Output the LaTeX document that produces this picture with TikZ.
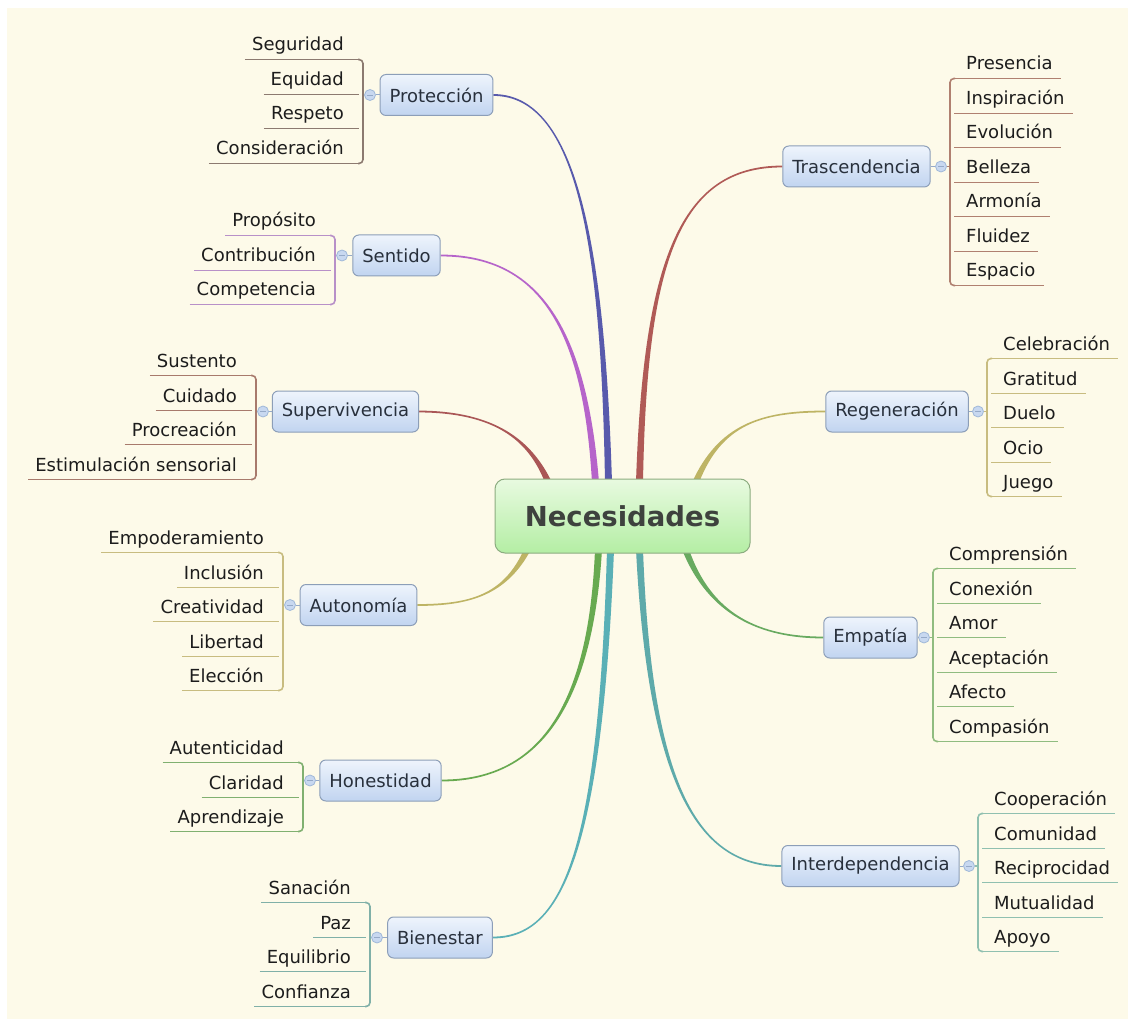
\documentclass[tikz,border=0pt]{standalone}
\usepackage{fontspec}
\setmainfont{DejaVu Sans}
\usetikzlibrary{calc}
\pgfdeclarelayer{bg}\pgfdeclarelayer{lines}\pgfsetlayers{bg,lines,main}
\definecolor{cream}{RGB}{253,250,233}
\definecolor{leaftext}{RGB}{28,28,28}
\definecolor{branchtext}{RGB}{40,48,60}
\definecolor{branchborder}{RGB}{140,158,184}
\definecolor{branchtop}{RGB}{238,244,252}
\definecolor{branchbot}{RGB}{193,212,240}
\definecolor{roottop}{RGB}{232,250,224}
\definecolor{rootbot}{RGB}{180,238,164}
\definecolor{rootborder}{RGB}{140,172,128}
\definecolor{roottext}{RGB}{62,66,62}
\definecolor{collfill}{RGB}{200,216,240}
\definecolor{collborder}{RGB}{160,184,216}
\definecolor{boxlinec}{RGB}{150,170,200}
% connector colours
\definecolor{cProt}{RGB}{88,90,172}
\definecolor{cSent}{RGB}{182,100,202}
\definecolor{cSup}{RGB}{170,86,86}
\definecolor{cTras}{RGB}{176,90,86}
\definecolor{cOlive}{RGB}{190,180,100}
\definecolor{cHon}{RGB}{104,170,80}
\definecolor{cEmp}{RGB}{104,170,96}
\definecolor{cBien}{RGB}{90,176,182}
\definecolor{cInt}{RGB}{94,170,170}
% underline colours
\definecolor{uProt}{RGB}{140,122,112}
\definecolor{uSent}{RGB}{184,144,200}
\definecolor{uSup}{RGB}{168,122,108}
\definecolor{uTras}{RGB}{176,128,112}
\definecolor{uOlive}{RGB}{200,188,128}
\definecolor{uHon}{RGB}{128,176,112}
\definecolor{uEmp}{RGB}{144,188,128}
\definecolor{uBien}{RGB}{128,176,168}
\definecolor{uInt}{RGB}{144,192,176}
\newcommand\leaffont{\fontsize{18}{22}\selectfont}
\tikzset{
  leaf/.style={font=\leaffont, text=leaftext, inner sep=0pt},
  branch/.style={draw=branchborder, line width=1pt, rounded corners=6pt,
    top color=branchtop, bottom color=branchbot, font=\leaffont, text=branchtext,
    inner xsep=9.5pt, inner ysep=0pt, minimum height=41pt},
  rootbox/.style={draw=rootborder, line width=1pt, rounded corners=10pt,
    top color=roottop, bottom color=rootbot, text=roottext,
    font=\fontsize{27.5}{32}\selectfont\bfseries, minimum width=255pt, minimum height=74pt},
  collapse/.style={circle, draw=collborder, fill=collfill, line width=0.8pt,
    minimum size=11pt, inner sep=0pt,
    path picture={\draw[boxlinec, line width=0.9pt] ([xshift=2.8pt]path picture bounding box.west) -- ([xshift=-2.8pt]path picture bounding box.east);}},
  uline/.style={draw=#1, line width=1.6pt},
  boxline/.style={draw=boxlinec, line width=1pt}
}
% left leaf group: #1 node, #2 bracket x, #3 first underline y, #4 count, #5 colour, #6 circle y, #7 list
\newcommand\grpL[7]{%
  \foreach \lbl [count=\i] in {#7} {
    \pgfmathsetmacro\yy{round(#3+(\i-1)*34.5)+0.5}
    \node[leaf, anchor=base east] (#1-\i) at (#2-19,\yy-8.5) {\lbl};
    \draw[uline=#5] ($(#1-\i.base west)+(-7,8.5)$) -- (#2-4,\yy);
  }
  \pgfmathsetmacro\yfirst{round(#3)+0.5}
  \pgfmathsetmacro\ylast{round(#3+(#4-1)*34.5)+0.5}
  \draw[uline=#5, rounded corners=4pt] (#2-5,\yfirst) -- (#2,\yfirst) -- (#2,\ylast) -- (#2-5,\ylast);
  \node[collapse] (#1-c) at (#2+7,#6) {};
  \draw[uline=#5] (#2,#6) -- (#1-c.west);
  \draw[boxline] (#1-c.east) -- (#1.west);
}
\newcommand\grpR[7]{%
  \foreach \lbl [count=\i] in {#7} {
    \pgfmathsetmacro\yy{round(#3+(\i-1)*34.5)+0.5}
    \node[leaf, anchor=base west] (#1-\i) at (#2+16,\yy-8.5) {\lbl};
    \draw[uline=#5] (#2+4,\yy) -- ($(#1-\i.base east)+(8,8.5)$);
  }
  \pgfmathsetmacro\yfirst{round(#3)+0.5}
  \pgfmathsetmacro\ylast{round(#3+(#4-1)*34.5)+0.5}
  \draw[uline=#5, rounded corners=4pt] (#2+5,\yfirst) -- (#2,\yfirst) -- (#2,\ylast) -- (#2+5,\ylast);
  \node[collapse] (#1-c) at (#2-9,#6) {};
  \draw[uline=#5] (#2,#6) -- (#1-c.east);
  \draw[boxline] (#1-c.west) -- (#1.east);
}
% tapered connector: #1 colour, #2 start coordinate, #3 c1, #4 c2, #5 end anchor, #6 half width, #7 sign
\newcommand\conn[7]{%
  \pgfmathsetmacro\ea{(#7)*0.9}\pgfmathsetmacro\eb{0-(#7)*0.9}%
  \pgfmathsetmacro\wa{0-#6}\pgfmathsetmacro\wb{#6*0.5}\pgfmathsetmacro\wc{0-#6*0.5}%
  \begin{pgfonlayer}{lines}
  \fill[#1] ($(#2)+(\wa,0)$) .. controls ($(#3)+(\wc,0)$) and ($(#4)+(0,\ea)$) .. ($(#5)+(0,\ea)$)
     -- ($(#5)+(0,\eb)$) .. controls ($(#4)+(0,\eb)$) and ($(#3)+(\wb,0)$) .. ($(#2)+(#6,0)$) -- cycle;
  \end{pgfonlayer}}
\begin{document}
\begin{tikzpicture}[x=1pt,y=-1pt]
\useasboundingbox (0,0) rectangle (1128,1019);
\begin{pgfonlayer}{bg}
  \fill[white] (0,0) rectangle (1128,1019);
  \fill[cream] (7,8) rectangle (1128,1019);
\end{pgfonlayer}

\node[rootbox] (root) at (622.5,516) {Necesidades};

\node[branch] (prot) at (436.5,95) {Protección};
\node[branch] (sent) at (396.5,255.5) {Sentido};
\node[branch] (sup) at (345.5,411.5) {Supervivencia};
\node[branch] (aut) at (358.5,605) {Autonomía};
\node[branch] (hon) at (380.5,780.5) {Honestidad};
\node[branch] (bien) at (440,937.5) {Bienestar};
\node[branch] (tras) at (856.5,166.5) {Trascendencia};
\node[branch] (reg) at (897,411.5) {Regeneración};
\node[branch] (emp) at (870.5,637.5) {Empatía};
\node[branch] (int) at (870.5,866) {Interdependencia};

\grpL{prot}{363}{59}{4}{uProt}{95}{Seguridad,Equidad,Respeto,Consideración}
\grpL{sent}{335}{235}{3}{uSent}{255.5}{Propósito,Contribución,Competencia}
\grpL{sup}{256}{375}{4}{uSup}{411.5}{Sustento,Cuidado,Procreación,Estimulación sensorial}
\grpL{aut}{283}{552}{5}{uOlive}{605}{Empoderamiento,Inclusión,Creatividad,Libertad,Elección}
\grpL{hon}{303}{762}{3}{uHon}{780.5}{Autenticidad,Claridad,Aprendizaje}
\grpL{bien}{370}{902}{4}{uBien}{937.5}{Sanación,Paz,Equilibrio,Confianza}
\grpR{tras}{950}{78}{7}{uTras}{166.5}{Presencia,Inspiración,Evolución,Belleza,Armonía,Fluidez,Espacio}
\grpR{reg}{987}{358}{5}{uOlive}{411.5}{Celebración,Gratitud,Duelo,Ocio,Juego}
\grpR{emp}{933}{568}{6}{uEmp}{637.5}{Comprensión,Conexión,Amor,Aceptación,Afecto,Compasión}
\grpR{int}{978}{813}{5}{uInt}{866}{Cooperación,Comunidad,Reciprocidad,Mutualidad,Apoyo}

\coordinate (sProt) at ($(root.north)+(-14,4)$);
\coordinate (sSent) at ($(root.north)+(-27,4)$);
\coordinate (sSup) at ($(root.north)+(-74,4)$);
\coordinate (sTras) at ($(root.north)+(17,4)$);
\coordinate (sReg) at ($(root.north)+(73,4)$);
\coordinate (sAut) at ($(root.south)+(-95,-4)$);
\coordinate (sHon) at ($(root.south)+(-24,-4)$);
\coordinate (sBien) at ($(root.south)+(-12,-4)$);
\coordinate (sInt) at ($(root.south)+(17,-4)$);
\coordinate (sEmp) at ($(root.south)+(63,-4)$);

\conn{cProt}{sProt}{603,250}{578,95}{prot.east}{3.5}{1}
\conn{cSent}{sSent}{585,330}{540,255.5}{sent.east}{3.5}{1}
\conn{cSup}{sSup}{530,440}{495,412}{sup.east}{3.5}{1}
\conn{cTras}{sTras}{645,260}{680,166.5}{tras.west}{3.5}{-1}
\conn{cOlive}{sReg}{720,425}{760,411.5}{reg.west}{3.5}{-1}
\conn{cOlive}{sAut}{505,595}{470,605}{aut.east}{3.5}{-1}
\conn{cHon}{sHon}{590,720}{530,780.5}{hon.east}{3.5}{-1}
\conn{cBien}{sBien}{600,860}{560,937.5}{bien.east}{3.5}{-1}
\conn{cEmp}{sEmp}{710,615}{760,637.5}{emp.west}{3.5}{1}
\conn{cInt}{sInt}{650,790}{700,866}{int.west}{3.5}{1}
\end{tikzpicture}
\end{document}
